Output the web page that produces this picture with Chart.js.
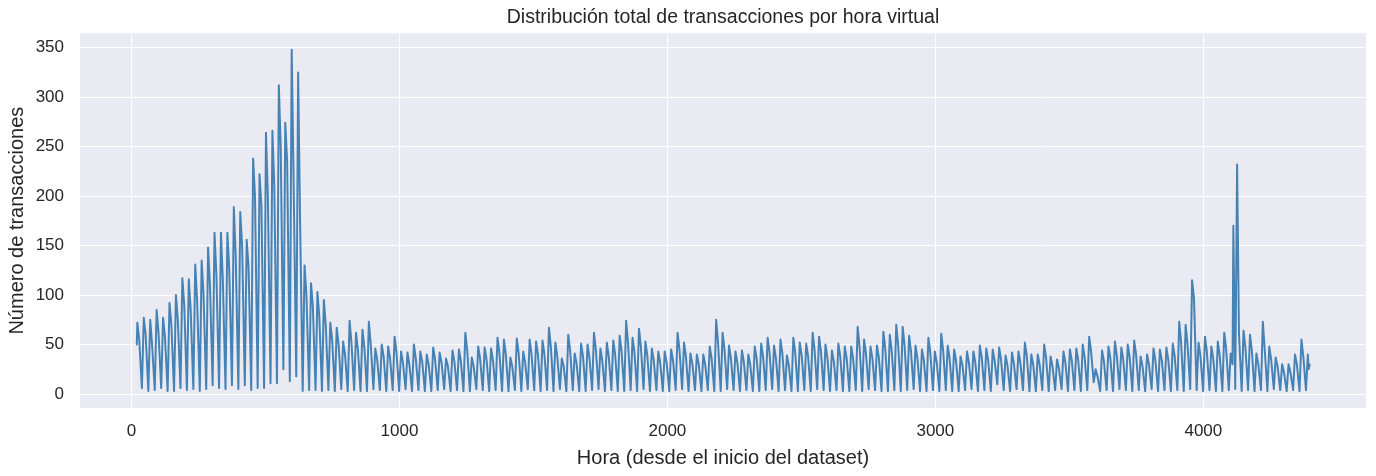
<!DOCTYPE html>
<html>
<head>
<meta charset="utf-8">
<script src="https://cdn.jsdelivr.net/npm/chart.js@4.4.1/dist/chart.umd.min.js"></script>
<style>
  html, body { margin: 0; padding: 0; background: #ffffff; }
  #wrap { width: 1376px; height: 476px; }
</style>
</head>
<body>
<div id="wrap"><canvas id="myChart" width="1376" height="476"></canvas></div>
<script>
// first and last data points, and the hour of the first daily peak
const startHour = 20;
const startValue = 50;
const endHour = 4393;
const endValue = 25;
const firstPeakHour = 22;
const hoursPerDay = 24;

// daily peak of transactions (one value per virtual day)
const dailyPeaks = [
    72, 77, 75, 85, 77, 92, 100, 117, 116, 131, 135, 148, 163, 163, 163, 189, 184, 156, 238, 222,
    264, 266, 312, 274, 348, 325, 130, 112, 103,
    95, 72, 67, 53, 74, 62, 65, 73, 46, 50, 48, 58, 43, 42, 50, 43, 40, 47, 42, 36,
    44, 45, 62, 37, 48, 47, 46, 57, 55, 37, 56, 43, 55,
    53, 54, 67, 52, 36, 60, 41, 51, 50, 62, 46, 52, 54, 59, 74, 57, 66, 53, 46, 43,
    43, 45, 62, 52, 41, 40, 40, 48, 75, 62, 49, 43,
    44, 40, 48, 51, 57, 49, 55, 39, 57, 52, 51, 62, 58, 50, 44, 51, 48, 48, 68, 55,
    48, 49, 63, 60, 70, 68, 59, 49, 45, 57, 43, 61, 49,
    45, 38, 43, 43, 49, 46, 45, 47, 39, 42, 43, 52, 40, 40, 50, 38, 35, 43, 45, 46,
    50, 58, 25, 44, 48, 53, 47, 50, 54, 38, 40, 46, 45,
    47, 51, 73, 70, 115, 52, 58, 48, 53, 62, 41, 232, 64, 60, 41, 73, 48, 37, 30, 30,
    40, 55, 40
];

// the lower level the same day settles on a few hours after its peak
const dailyShoulders = [
    55, 60, 50, 62, 58, 70, 75, 90, 85, 95, 100, 110, 120, 115, 125, 140, 150, 128, 200, 190,
    200, 210, 250, 235, 218, 180, 100, 88, 78,
    70, 55, 50, 40, 52, 45, 48, 50, 35, 38, 36, 42, 32, 30, 36, 33, 30, 35, 32, 28,
    33, 34, 44, 28, 36, 35, 34, 42, 40, 28, 41, 32, 40,
    40, 40, 48, 38, 28, 44, 31, 38, 37, 45, 34, 38, 40, 43, 52, 42, 48, 39, 34, 32,
    32, 34, 45, 38, 31, 30, 30, 36, 52, 45, 36, 32,
    33, 30, 36, 38, 42, 36, 41, 29, 42, 39, 38, 45, 43, 37, 33, 38, 36, 36, 48, 41,
    36, 37, 46, 44, 50, 49, 43, 36, 34, 42, 32, 44, 36,
    34, 29, 32, 32, 37, 34, 34, 35, 29, 31, 32, 39, 30, 30, 37, 28, 26, 32, 34, 34,
    37, 43, 18, 33, 36, 39, 35, 37, 40, 28, 30, 34, 34,
    35, 38, 52, 50, 97, 39, 43, 36, 39, 46, 30, 60, 47, 44, 30, 45, 35, 28, 22, 22,
    30, 38, 30
];

// night low between one day and the next
const dailyLows = [
    6, 3, 4, 6, 3, 3, 6, 4, 5, 3, 5, 9, 6, 5, 9, 5, 9, 4, 6, 6,
    11, 11, 25, 13, 18, 3, 4, 4, 3,
    4, 3, 5, 3, 4, 3, 3, 5, 4, 3, 4, 3, 5, 3, 4, 3, 3, 4, 5, 3,
    4, 3, 3, 5, 4, 3, 4, 3, 3, 4, 3, 5, 4,
    3, 4, 3, 5, 3, 4, 3, 3, 4, 5, 3, 4, 3, 3, 4, 3, 5, 3, 4, 3,
    3, 4, 5, 3, 4, 3, 4, 3, 3, 5, 4, 3,
    4, 3, 3, 4, 5, 3, 4, 3, 3, 4, 3, 5, 4, 3, 4, 3, 3, 4, 3, 5,
    4, 3, 3, 4, 3, 4, 5, 3, 3, 4, 3, 4, 3,
    3, 4, 5, 3, 4, 3, 10, 4, 3, 5, 4, 3, 3, 4, 3, 4, 5, 3, 4, 3,
    4, 12, 3, 4, 3, 5, 4, 3, 4, 3, 5, 3, 4,
    3, 4, 3, 5, 4, 3, 4, 3, 3, 4, 5, 3, 4, 3, 4, 3, 5, 4, 3, 4,
    3, 4
];

// a secondary spike seen just before a peak
const extraHours = [4112];
const extraValues = [170];

const xTicks = [0, 1000, 2000, 3000, 4000];
const yTicks = [0, 50, 100, 150, 200, 250, 300, 350];

function buildPoints () {
    let pts = [{ x: startHour, y: startValue }];
    for (let i = 0; i < dailyPeaks.length; i++) {
        let h = firstPeakHour + i * hoursPerDay;
        pts.push({ x: h, y: dailyPeaks[i] });
        pts.push({ x: h + 7, y: dailyShoulders[i] });
        if (i < dailyLows.length) pts.push({ x: h + 17, y: dailyLows[i] });
    }
    for (let j = 0; j < extraHours.length; j++) {
        pts.push({ x: extraHours[j], y: extraValues[j] });
    }
    pts.push({ x: endHour, y: endValue });
    pts.sort((a, b) => a.x - b.x);
    return pts;
}

const plotBg = {
    id: 'plotBg',
    beforeDraw (chart) {
        const { ctx, chartArea } = chart;
        ctx.save();
        ctx.fillStyle = '#eaeaf2';
        ctx.fillRect(chartArea.left, chartArea.top, chartArea.right - chartArea.left, chartArea.bottom - chartArea.top);
        ctx.restore();
    }
};

function chart () {
    Chart.defaults.font.family = '"Liberation Sans", Arial, sans-serif';
    Chart.defaults.color = '#262626';
    const ctx = document.getElementById('myChart').getContext('2d');
    new Chart(ctx, {
        type: 'line',
        data: {
            datasets: [{
                data: buildPoints(),
                borderColor: '#4682b4',
                borderWidth: 2,
                borderJoinStyle: 'round',
                borderCapStyle: 'round',
                pointRadius: 0,
                tension: 0,
                fill: false
            }]
        },
        options: {
            responsive: false,
            animation: false,
            devicePixelRatio: 1,
            layout: { padding: { left: 0, right: 10, top: 0, bottom: 0 } },
            plugins: {
                legend: { display: false },
                tooltip: { enabled: false },
                title: {
                    display: true,
                    text: 'Distribución total de transacciones por hora virtual',
                    fullSize: false,
                    font: { size: 19.5, weight: 'normal' },
                    color: '#262626',
                    padding: { top: 6.3, bottom: 3.6 }
                }
            },
            scales: {
                x: {
                    type: 'linear',
                    min: -192,
                    max: 4607,
                    afterBuildTicks: s => { s.ticks = xTicks.map(v => ({ value: v })); },
                    afterFit: s => { s.height = 68; },
                    grid: { color: '#ffffff', lineWidth: 1, drawTicks: false },
                    border: { display: false },
                    ticks: { font: { size: 17 }, padding: 13, maxRotation: 0, callback: v => String(v) },
                    title: {
                        display: true,
                        text: 'Hora (desde el inicio del dataset)',
                        font: { size: 20 },
                        padding: { top: 0, bottom: 6 }
                    }
                },
                y: {
                    type: 'linear',
                    min: -14.1,
                    max: 364.5,
                    afterBuildTicks: s => { s.ticks = yTicks.map(v => ({ value: v })); },
                    afterFit: s => { s.width = 80; },
                    grid: { color: '#ffffff', lineWidth: 1, drawTicks: false },
                    border: { display: false },
                    ticks: { font: { size: 17 }, padding: 16, callback: v => String(v) },
                    title: {
                        display: true,
                        text: 'Número de transacciones',
                        font: { size: 20 },
                        padding: { top: 5, bottom: 0 }
                    }
                }
            }
        },
        plugins: [plotBg]
    });
}

window.onload = chart;
</script>
</body>
</html>
